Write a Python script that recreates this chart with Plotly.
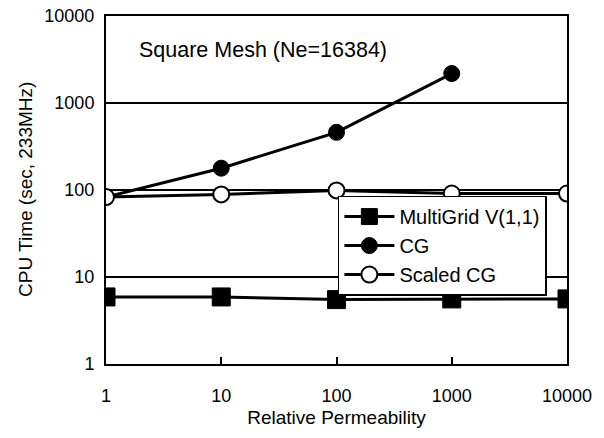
import plotly.graph_objects as go

permeability = [1, 10, 100, 1000, 10000]
multigrid = [5.9, 5.9, 5.5, 5.6, 5.6]
cg_x = [1, 10, 100, 1000]
cg = [83, 178, 460, 2180]
scaled_cg = [83, 89, 99, 91, 91]

x_ticks = [1, 10, 100, 1000, 10000]
y_ticks = [1, 10, 100, 1000, 10000]

FONT = "Arial, Liberation Sans, sans-serif"

fig = go.Figure()
fig.add_trace(go.Scatter(
    x=permeability, y=multigrid, name="MultiGrid V(1,1)", mode="lines+markers",
    line=dict(color="black", width=3),
    marker=dict(symbol="square", size=18, color="black", line=dict(color="black", width=1)),
))
fig.add_trace(go.Scatter(
    x=cg_x, y=cg, name="CG", mode="lines+markers",
    line=dict(color="black", width=3),
    marker=dict(symbol="circle", size=16, color="black", line=dict(color="black", width=1)),
))
fig.add_trace(go.Scatter(
    x=permeability, y=scaled_cg, name="Scaled CG", mode="lines+markers",
    line=dict(color="black", width=3),
    marker=dict(symbol="circle", size=16, color="white", line=dict(color="black", width=2)),
))

fig.update_layout(
    width=604, height=438,
    margin=dict(l=106, r=37, t=16, b=74, autoexpand=False),
    paper_bgcolor="white", plot_bgcolor="white",
    font=dict(family=FONT, size=18, color="black"),
    showlegend=True,
    legend=dict(
        x=0.503, y=0.484, xanchor="left", yanchor="top",
        bgcolor="white", bordercolor="black", borderwidth=1.5,
        font=dict(family=FONT, size=20, color="black"),
        tracegroupgap=0, itemwidth=50,
    ),
    annotations=[
        dict(
            text="Square Mesh (Ne=16384)", xref="paper", yref="paper",
            x=0.067, y=0.902, xanchor="left", yanchor="middle", showarrow=False,
            font=dict(family=FONT, size=21.5, color="black"),
        ),
        dict(
            text="CPU Time (sec, 233MHz)", xref="paper", yref="paper",
            x=-0.1757, y=0.5, xanchor="center", yanchor="middle", showarrow=False,
            textangle=-90, font=dict(family=FONT, size=19, color="black"),
        ),
    ],
)

fig.update_xaxes(
    type="log", range=[0, 4],
    tickvals=x_ticks, ticktext=[str(v) for v in x_ticks],
    ticks="inside", ticklen=7, tickwidth=2, tickcolor="black",
    showline=True, linecolor="black", linewidth=2, mirror=True,
    showgrid=False, zeroline=False,
    ticklabelstandoff=14,
    title=dict(text="Relative Permeability", standoff=6, font=dict(family=FONT, size=19)),
    tickfont=dict(family=FONT, size=18),
)
fig.update_yaxes(
    type="log", range=[0, 4],
    tickvals=y_ticks, ticktext=[str(v) for v in y_ticks],
    ticks="", showline=True, linecolor="black", linewidth=2, mirror=True,
    showgrid=True, gridcolor="black", gridwidth=1.5, zeroline=False,
    ticklabelstandoff=6,
    tickfont=dict(family=FONT, size=18),
)

fig.write_html(
    "out.html",
    config={"displayModeBar": False},
    post_script="document.body.style.margin='0px';document.body.style.overflow='hidden';",
)
